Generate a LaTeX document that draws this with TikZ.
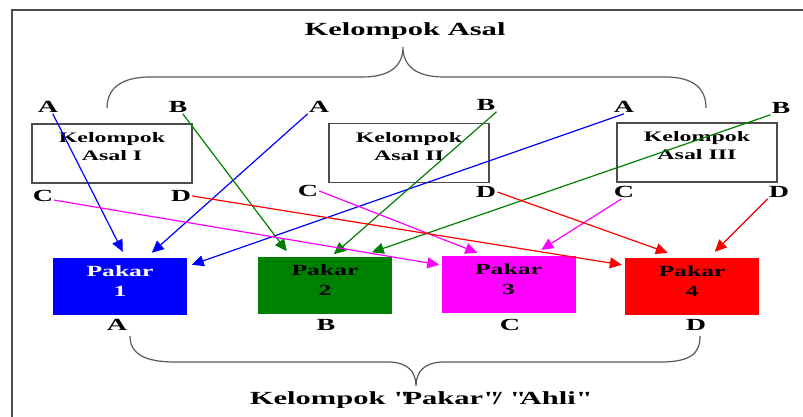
\documentclass[tikz,border=0pt]{standalone}
\usepackage{fontspec}
\setmainfont[FakeStretch=1.65]{Liberation Serif}
\usetikzlibrary{arrows.meta,calc}
\definecolor{pakargreen}{RGB}{0,128,0}
\definecolor{pakarpink}{RGB}{255,0,255}
\definecolor{pakarblue}{RGB}{0,0,255}
\definecolor{pakarred}{RGB}{255,0,0}
\tikzset{
  letter/.style={font=\fontsize{17}{20}\selectfont\bfseries, inner sep=1pt},
  asalbox/.style={draw=black!70, line width=1.4pt, fill=white, minimum width=160pt,
    minimum height=59pt, align=center, text depth=14pt,
    font=\fontsize{14.5}{18}\selectfont\bfseries},
  pakarbox/.style={minimum width=134pt, minimum height=57pt, align=center,
    text depth=10pt, font=\fontsize{15.5}{20}\selectfont\bfseries},
  arr/.style={line width=1.2pt, -{Triangle[length=12pt,width=11pt]}},
  brace/.style={draw=black!65, line width=1.2pt},
}
\begin{document}
\begin{tikzpicture}[x=1pt,y=-1pt]
\useasboundingbox (0,0) rectangle (803,417);
\draw[black!70, line width=1.5pt] (12,417) -- (12,10) -- (803,10);
% Kelompok Asal
\node[font=\fontsize{18.5}{22}\selectfont\bfseries] (asal) at (405,31) {Kelompok Asal};
\draw[brace] (107,108) .. controls (107,88) and (122,77) .. (150,77) -- (362,77)
  .. controls (390,77) and (403,66) .. (403,47)
  .. controls (403,66) and (416,77) .. (444,77) -- (665,77)
  .. controls (693,77) and (706,88) .. (706,108);
\node[asalbox] (k1) at (112,153.5) {Kelompok\\Asal I};
\node[asalbox] (k2) at (409,153) {Kelompok\\Asal II};
\node[asalbox] (k3) at (697,152.5) {Kelompok\\Asal III};
\node[letter] (tA1) at (48,107) {A};
\node[letter] (tB1) at (178,107) {B};
\node[letter] (tA2) at (319,107) {A};
\node[letter] (tB2) at (486,105) {B};
\node[letter] (tA3) at (624,107) {A};
\node[letter] (tB3) at (781,108) {B};
\node[letter] (tC1) at (43,196) {C};
\node[letter] (tD1) at (181,196) {D};
\node[letter] (tC2) at (308,191) {C};
\node[letter] (tD2) at (486,192) {D};
\node[letter] (tC3) at (624,192) {C};
\node[letter] (tD3) at (779,192) {D};
% Kelompok Pakar
\node[pakarbox, fill=pakarblue, text=white] (p1) at (120,286.5) {Pakar\\1};
\node[pakarbox, fill=pakargreen] (p2) at (325,285) {Pakar\\2};
\node[pakarbox, fill=pakarpink] (p3) at (508.5,284.5) {Pakar\\3};
\node[pakarbox, fill=pakarred] (p4) at (692,286.5) {Pakar\\4};
\node[letter] (bA) at (117,325) {A};
\node[letter] (bB) at (326,325) {B};
\node[letter] (bC) at (510,325) {C};
\node[letter] (bD) at (696,325) {D};
\draw[arr, pakarblue] (tA1.-55) -- ($(p1.north west)+(70,-6)$);
\draw[arr, pakarblue] (tA2.south west) -- ($(p1.north west)+(99,-5)$);
\draw[arr, pakarblue] (tA3.south) -- ($(p1.north west)+(139,7)$);
\draw[arr, pakargreen] (tB1.-55) -- ($(p2.north west)+(29,-5)$);
\draw[arr, pakargreen] (tB2.south east) -- ($(p2.north west)+(76,-2)$);
\draw[arr, pakargreen] (tB3.south west) -- ($(p2.north west)+(114,-4)$);
\draw[arr, pakarpink] (tC1.-20) -- ($(p3.north west)+(-2,9)$);
\draw[arr, pakarpink] (tC2.east) -- ($(p3.north west)+(36,-3)$);
\draw[arr, pakarpink] (tC3.-110) -- ($(p3.north west)+(100,-6)$);
\draw[arr, pakarred] (tD1.east) -- ($(p4.north west)+(-3,7)$);
\draw[arr, pakarred] (tD2.east) -- ($(p4.north west)+(43,-5)$);
\draw[arr, pakarred] (tD3.south west) -- ($(p4.north west)+(90,-6)$);
\draw[brace] (130,336) .. controls (130,354) and (145,362) .. (175,362) -- (388,362)
  .. controls (408,362) and (416,372) .. (416,386)
  .. controls (416,372) and (424,362) .. (444,362) -- (660,362)
  .. controls (690,362) and (700,354) .. (700,336);
\node[font=\fontsize{18.5}{22}\selectfont\bfseries] (ahli) at (418,400)
  {Kelompok \textquotedbl Pakar\textquotedbl/ \textquotedbl Ahli\textquotedbl};
\end{tikzpicture}
\end{document}
